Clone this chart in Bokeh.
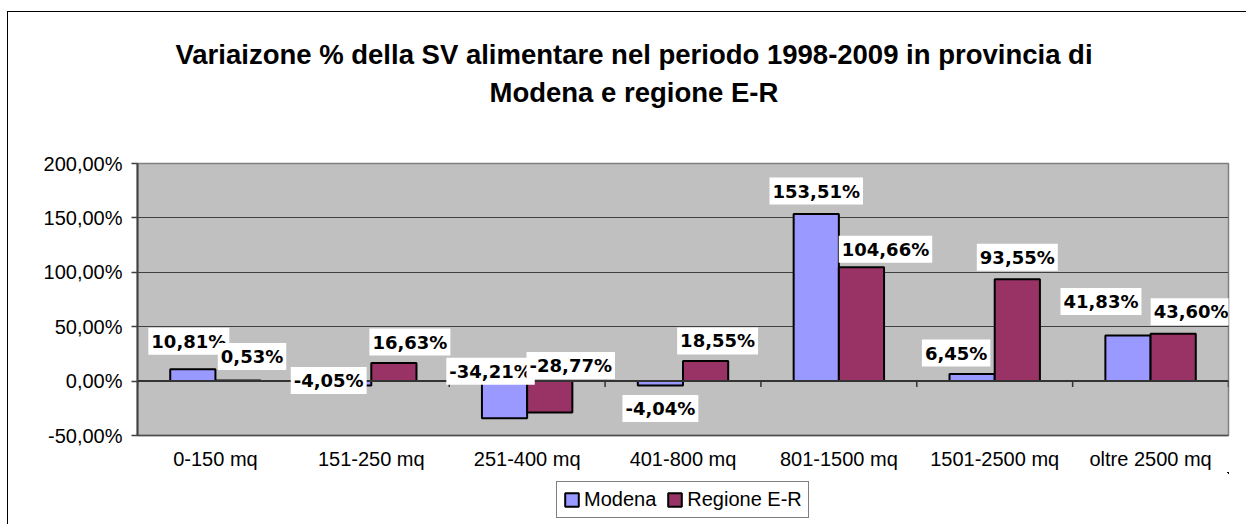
from bokeh.plotting import figure
from bokeh.layouts import column
from bokeh.models import (Range1d, FixedTicker, CustomJSTickFormatter, Label, Legend,
                          LegendItem, Span, Title)
from bokeh.embed import file_html
from bokeh.resources import INLINE

# ---------------- data ----------------
categories = ["0-150 mq", "151-250 mq", "251-400 mq", "401-800 mq",
              "801-1500 mq", "1501-2500 mq", "oltre 2500 mq"]
modena = [10.81, -4.05, -34.21, -4.04, 153.51, 6.45, 41.83]
regione = [0.53, 16.63, -28.77, 18.55, 104.66, 93.55, 43.60]
series_names = ["Modena", "Regione E-R"]
y_ticks = [-50, 0, 50, 100, 150, 200]
title_lines = ["Variaizone % della SV alimentare nel periodo 1998-2009 in provincia di",
               "Modena e regione E-R"]

# ---------------- style ----------------
colors = ["#9999FF", "#993366"]
bar_w = 0.29
# data-label nudges in screen pixels (Excel placement), per series
modena_dx = [-4, -20, -14, 0, 0, -16, -27]
modena_dy = [28, 5, 47, -23, 23, 21, 34]
regione_dx = [14, 16, 21, 12, 24, 0, 18]
regione_dy = [24, 21, 47, 20, 18, 22, 22]

W, H1, H2 = 1238, 460, 52
p = figure(width=W, height=H1, output_backend="svg", toolbar_location=None,
           x_range=Range1d(0, len(categories)), y_range=Range1d(-50, 200),
           min_border_left=129, min_border_right=18, min_border_top=151,
           min_border_bottom=34)
p.title.text = ""
p.background_fill_color = "#C0C0C0"
p.border_fill_color = "white"
p.outline_line_color = "#808080"
p.outline_line_width = 1.5

# grid
p.xgrid.visible = False
p.ygrid.ticker = FixedTicker(ticks=y_ticks)
p.ygrid.grid_line_color = "#404040"
p.ygrid.grid_line_width = 1

# y axis
p.yaxis.ticker = FixedTicker(ticks=y_ticks)
p.yaxis.formatter = CustomJSTickFormatter(code="return tick.toFixed(2).replace('.', ',') + '%';")
p.yaxis.axis_line_color = "#404040"
p.yaxis.axis_line_width = 2
p.yaxis.major_tick_line_color = "#404040"
p.yaxis.major_tick_line_width = 1.5
p.yaxis.major_tick_out = 6
p.yaxis.major_tick_in = 0
p.yaxis.minor_tick_line_color = None
p.yaxis.major_label_standoff = 9
p.yaxis.major_label_text_font = "Liberation Sans"
p.yaxis.major_label_text_font_size = "20px"
p.yaxis.major_label_text_color = "black"

# x axis (labels only, at bottom)
centers = [i + 0.5 for i in range(len(categories))]
p.xaxis.ticker = FixedTicker(ticks=centers)
p.xaxis.major_label_overrides = {c: lab for c, lab in zip(centers, categories)}
p.xaxis.major_tick_line_color = None
p.xaxis.minor_tick_line_color = None
p.xaxis.axis_line_color = "#4d4d4d"
p.xaxis.axis_line_width = 1.5
p.xaxis.major_label_standoff = 6
p.xaxis.major_label_text_font = "Liberation Sans"
p.xaxis.major_label_text_font_size = "20px"
p.xaxis.major_label_text_color = "black"

# category axis at zero with ticks between categories
p.add_layout(Span(location=0, dimension="width", line_color="#333333", line_width=2))
px_per_unit = 275 / 250.0
tick_len = 6 / px_per_unit
bounds = list(range(len(categories) + 1))
p.segment(x0=bounds, y0=[0] * len(bounds), x1=bounds, y1=[-tick_len] * len(bounds),
          line_color="#333333", line_width=1.5)

# bars
xm = [c - bar_w / 2 for c in centers]
xr = [c + bar_w / 2 for c in centers]
bar_style = dict(width=bar_w, line_color="black", line_width=2)
r1 = p.vbar(x=xm, top=modena, bottom=0, fill_color=colors[0], **bar_style)
r2 = p.vbar(x=xr, top=regione, bottom=0, fill_color=colors[1], **bar_style)

# data labels
def fmt(v):
    return ("%.2f" % v).replace(".", ",") + "%"

for xs, vals, dxs, dys in ((xm, modena, modena_dx, modena_dy),
                           (xr, regione, regione_dx, regione_dy)):
    for x, v, dx, dy in zip(xs, vals, dxs, dys):
        p.add_layout(Label(x=x, y=v, x_offset=dx, y_offset=dy, text=fmt(v),
                           text_align="center", text_baseline="middle",
                           text_font="DejaVu Sans", text_font_style="bold",
                           text_font_size="18px", text_color="black",
                           background_fill_color="white", padding=3))

# title: spacer nearest the plot area, then the two lines
title_style = dict(text_font="Liberation Sans", text_font_style="bold",
                   text_font_size="27.5px", text_color="black", align="left")
p.add_layout(Title(text=" ", standoff=23, **title_style), "above")
p.add_layout(Title(text=title_lines[1], standoff=0, offset=352, **title_style), "above")
p.add_layout(Title(text=title_lines[0], standoff=9, offset=38, **title_style), "above")

# legend strip below the chart (same series, kept outside its visible range)
q = figure(width=W, height=H2, output_backend="svg", toolbar_location=None,
           x_range=Range1d(-1000, -999), y_range=Range1d(-1000, -999),
           min_border=0)
q.axis.visible = False
q.grid.visible = False
q.outline_line_color = None
q.background_fill_color = "white"
q.border_fill_color = "white"
l1 = q.vbar(x=xm, top=modena, bottom=0, fill_color=colors[0], **bar_style)
l2 = q.vbar(x=xr, top=regione, bottom=0, fill_color=colors[1], **bar_style)
legend = Legend(items=[LegendItem(label=series_names[0], renderers=[l1]),
                       LegendItem(label=series_names[1], renderers=[l2])],
                orientation="horizontal", location=(419, 6))
legend.border_line_color = "black"
legend.border_line_width = 1
legend.background_fill_color = "white"
legend.background_fill_alpha = 1
legend.label_text_font = "Liberation Sans"
legend.label_text_font_size = "20px"
legend.label_text_color = "black"
legend.glyph_width = 17
legend.glyph_height = 17
legend.label_standoff = 4
legend.spacing = 10
legend.padding = 6
legend.margin = 0
q.add_layout(legend, "center")

page = column(p, q, spacing=0)
page.margin = (11, 0, 0, 7)
page.styles = {"border-left": "1px solid black", "border-top": "1px solid black"}

open("out.html", "w").write(file_html(page, INLINE))
